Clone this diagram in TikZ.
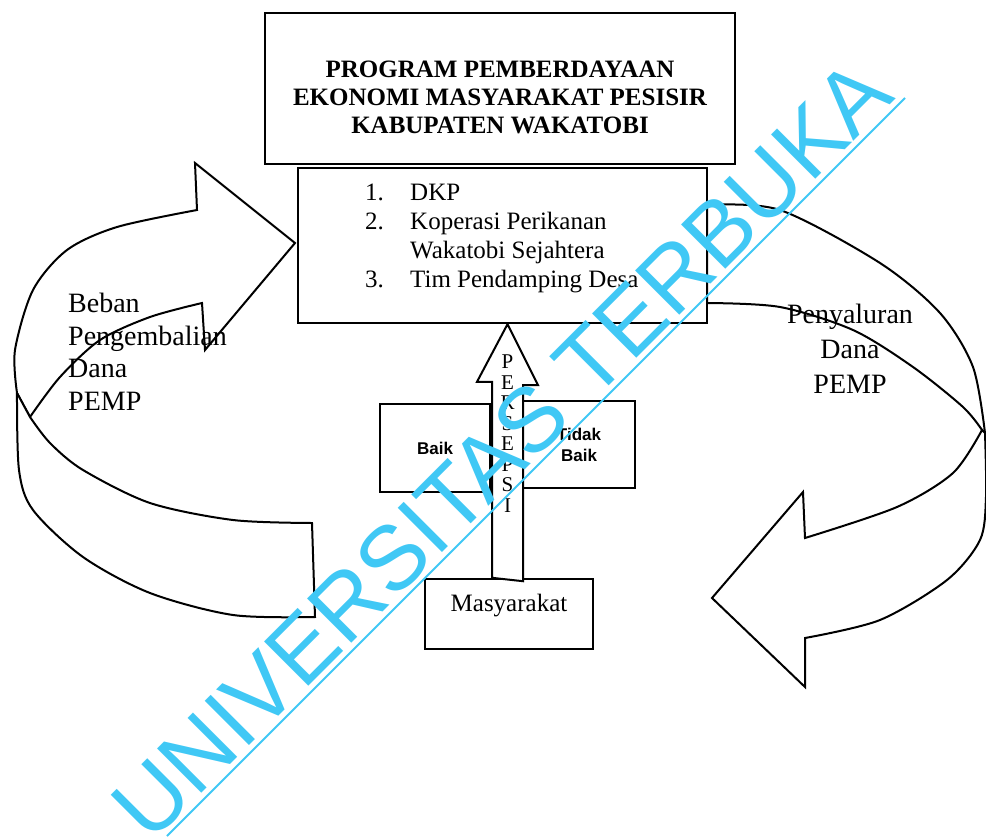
\documentclass[tikz,border=0pt]{standalone}
\usepackage{fontspec}
\setmainfont{Liberation Serif}
\setsansfont{Liberation Sans}
\usetikzlibrary{calc}
\definecolor{wmcyan}{RGB}{64,200,245}
\tikzset{
  kotak/.style={draw, line width=2.4pt, inner sep=0pt},
  panah/.style={draw, line width=2pt, line join=miter, fill=white},
  judul/.style={font=\fontsize{25}{28}\selectfont\bfseries, align=center, inner sep=0pt},
  isi/.style={font=\fontsize{25}{29}\selectfont, align=left, inner sep=0pt},
  ket/.style={font=\fontsize{28}{32.5}\selectfont, inner sep=0pt},
  nilai/.style={font=\fontsize{17}{21}\selectfont\sffamily\bfseries, align=center},
}

\begin{document}
\begin{tikzpicture}[x=1pt,y=-1pt]
    \useasboundingbox (0,0) rectangle (986,836);
    % panah kiri: beban pengembalian (pita atas + pita bawah)
    \draw[panah] (30,417) -- (17,393)
      -- plot[smooth] coordinates {(17,393) (15,350) (33,290) (67,250) (117,227) (197,210)}
      -- (195,163) -- (295,243) -- (205,350) -- (202,303)
      -- plot[smooth] coordinates {(202,303) (150,317) (100,340) (60,377) (30,417)} -- cycle;
    \draw[panah] (17,393)
      -- plot[smooth] coordinates {(17,393) (19,470) (33,510) (83,557) (150,593) (233,615) (315,617)}
      -- (312,523)
      -- plot[smooth] coordinates {(312,523) (233,520) (150,503) (83,470) (50,443) (30,417)} -- cycle;
    % panah kanan: penyaluran dana
    \draw[panah] (707,205)
      -- plot[smooth] coordinates {(707,205) (780,210) (880,263) (940,313) (973,367) (985,433)}
      -- plot[smooth] coordinates {(982,430) (963,407) (913,367) (853,330) (780,307) (707,303)} -- cycle;
    \draw[panah] (985,433)
      -- plot[smooth] coordinates {(985,433) (986,497) (980,540) (947,580) (880,620) (805,638)}
      -- (805,687) -- (712,598) -- (803,492) -- (805,538)
      -- plot[smooth] coordinates {(805,538) (897,507) (953,473) (982,430)} -- cycle;
    % kotak-kotak
    \node[kotak, minimum width=470pt, minimum height=151pt] (program) at (500,88.5) {};
    \node[judul] (judultxt) at (500,97) {PROGRAM PEMBERDAYAAN\\EKONOMI MASYARAKAT PESISIR\\KABUPATEN WAKATOBI};
    \node[kotak, minimum width=409pt, minimum height=155pt] (pelaksana) at (502.5,245.5) {};
    \node[isi, anchor=west] (daftar) at (365,238) {\makebox[45pt][l]{1.}DKP\\\makebox[45pt][l]{2.}Koperasi Perikanan\\\hspace*{45pt}Wakatobi Sejahtera\\\makebox[45pt][l]{3.}Tim Pendamping Desa};
    \node[kotak, nilai, minimum width=110pt, minimum height=88pt] (baik) at (435,448) {Baik};
    \node[kotak, nilai, minimum width=112pt, minimum height=87pt] (tidakbaik) at (579,444.5) {Tidak\\Baik};
    \node[kotak, minimum width=168pt, minimum height=70pt] (masy) at (509,614) {};
    \node[font=\fontsize{25}{29}\selectfont, inner sep=0pt] (masytxt) at (509,606) {Masyarakat};
    % panah persepsi
    \coordinate (pangkal) at ($(masy.north)+(-1.5,0)$);
    \coordinate (ujung) at (pangkal |- pelaksana.south);
    \draw[panah] (pangkal) ++(-15.5,0) -- ++(0,-196) -- ++(-15,0) -- (ujung) -- ++(30.5,61) -- ++(-15,0) -- ++(0,196) -- cycle;
    \node[font=\fontsize{21}{20.5}\selectfont, align=center, inner sep=0pt] (persepsi) at (507.5,433.5) {P\\E\\R\\S\\E\\P\\S\\I};
    % keterangan panah
    \node[ket, anchor=west, align=left] (beban) at (68,352) {Beban\\Pengembalian\\Dana\\PEMP};
    \node[ket, font=\fontsize{28}{35}\selectfont, align=center] (salur) at (850,348.5) {Penyaluran\\Dana\\PEMP};
    % tanda air
    \node[font=\fontsize{91}{91}\selectfont\sffamily, text=wmcyan, rotate=45, anchor=base west, inner sep=0pt] (tandaair) at (150,845) {UNIVERSITAS TERBUKA};
    \draw[wmcyan, line width=2pt] (167,836) -- (905,98);
\end{tikzpicture}
\end{document}
